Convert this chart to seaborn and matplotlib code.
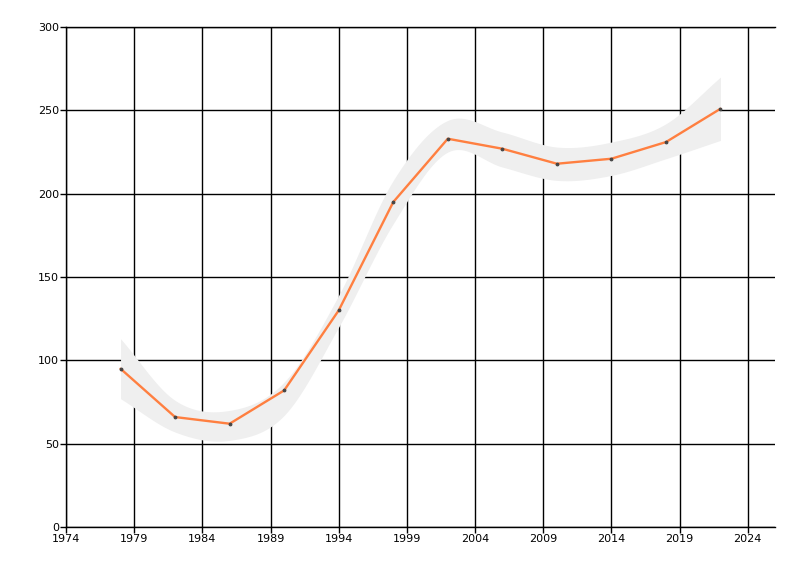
import numpy as np
import pandas as pd
import seaborn as sns
import matplotlib.pyplot as plt

# data
years = [1978, 1982, 1986, 1990, 1994, 1998, 2002, 2006, 2010, 2014, 2018, 2022]
values = [95, 66, 62, 82, 130, 195, 233, 227, 218, 221, 231, 251]
band_upper = [113, 76, 70, 87, 139, 208, 244, 237, 228, 231, 242, 270]
band_lower = [77, 57, 52, 67, 120, 182, 225, 216, 208, 211, 221, 232]
x_ticks = [1974, 1979, 1984, 1989, 1994, 1999, 2004, 2009, 2014, 2019, 2024]
y_ticks = [0, 50, 100, 150, 200, 250, 300]


def catmull_rom(xs, ys, steps=20):
    # smooth curve through the band points (drawing only)
    xs = np.asarray(xs, float)
    ys = np.asarray(ys, float)
    px = np.concatenate([[2 * xs[0] - xs[1]], xs, [2 * xs[-1] - xs[-2]]])
    py = np.concatenate([[2 * ys[0] - ys[1]], ys, [2 * ys[-1] - ys[-2]]])
    out_x, out_y = [], []
    t = np.linspace(0, 1, steps, endpoint=False)
    for i in range(1, len(px) - 2):
        for p, out in ((px, out_x), (py, out_y)):
            p0, p1, p2, p3 = p[i - 1], p[i], p[i + 1], p[i + 2]
            out.extend(0.5 * (2 * p1 + (-p0 + p2) * t
                              + (2 * p0 - 5 * p1 + 4 * p2 - p3) * t ** 2
                              + (-p0 + 3 * p1 - 3 * p2 + p3) * t ** 3))
    out_x.append(xs[-1])
    out_y.append(ys[-1])
    return np.array(out_x), np.array(out_y)


df = pd.DataFrame({'year': years, 'value': values})

sns.set_style('white')
plt.rcParams['font.family'] = ['DejaVu Sans']

fig = plt.figure(figsize=(8, 5.76), dpi=100)
ax = fig.add_axes([0.0825, 0.085, 0.8863, 0.868])

ux, uy = catmull_rom(years, band_upper)
lx, ly = catmull_rom(years, band_lower)
ax.fill_between(ux, uy, np.interp(ux, lx, ly), color='#efefef', lw=0, zorder=2)

sns.lineplot(data=df, x='year', y='value', ax=ax, color='#ff7f40', lw=1.7,
             marker='o', markersize=2, markerfacecolor='#444444',
             markeredgecolor='#444444', zorder=3)

ax.set_xlim(1974, 2026)
ax.set_ylim(0, 300)
ax.set_xticks(x_ticks)
ax.set_yticks(y_ticks)
ax.grid(True, color='black', lw=1, zorder=1)
ax.set_axisbelow(True)
ax.set_xlabel('')
ax.set_ylabel('')
ax.tick_params(axis='both', length=4, width=1, color='black', labelsize=8,
               labelcolor='black', bottom=True, left=True, pad=1)
ax.spines['right'].set_visible(False)
for s in ('left', 'bottom', 'top'):
    ax.spines[s].set_color('black')
    ax.spines[s].set_linewidth(1)

fig.savefig('out.png', dpi=100)
